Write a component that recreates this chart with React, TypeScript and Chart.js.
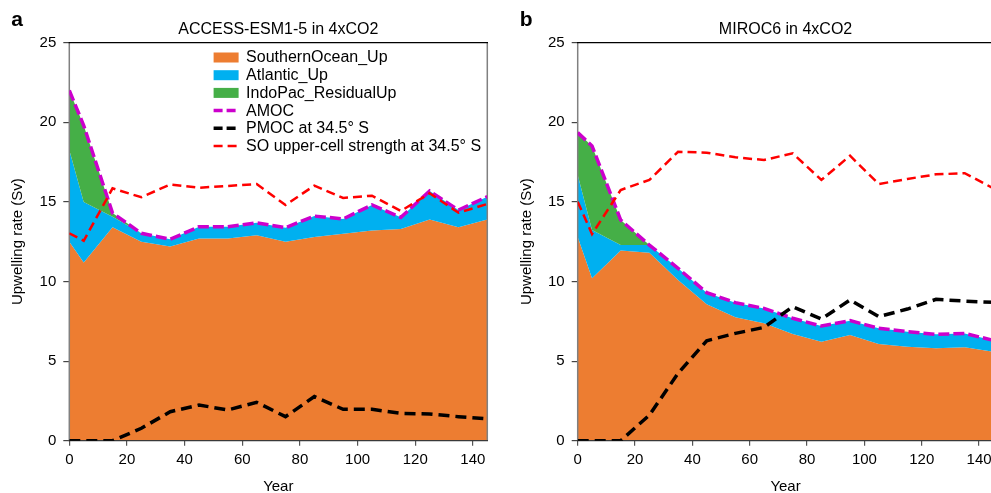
import React, { useEffect, useRef } from "react";
import { Chart, registerables } from "chart.js";
Chart.register(...registerables);

const years = [0, 5, 15, 25, 35, 45, 55, 65, 75, 85, 95, 105, 115, 125, 135, 145];
const xTickStep = 20;
const yTickStep = 5;
const xMax = 145;
const yMax = 25;

const legendLabels = [
  "SouthernOcean_Up",
  "Atlantic_Up",
  "IndoPac_ResidualUp",
  "AMOC",
  "PMOC at 34.5° S",
  "SO upper-cell strength at 34.5° S",
];

// Panel a: ACCESS-ESM1-5
const accTitle = "ACCESS-ESM1-5 in 4xCO2";
const accSouthernOceanUp = [12.5, 11.2, 13.4, 12.5, 12.2, 12.7, 12.7, 12.9, 12.5, 12.8, 13.0, 13.2, 13.3, 13.9, 13.4, 13.9];
const accAtlanticUp = [5.76, 3.8, 0.67, 0.53, 0.45, 0.74, 0.74, 0.79, 0.88, 1.31, 0.93, 1.61, 0.73, 1.78, 1.09, 1.43];
const accIndoPacResidualUp = [3.74, 4.8, 0.23, 0, 0, 0, 0, 0, 0, 0, 0, 0, 0, 0, 0, 0];
const accAMOC = [22.0, 19.8, 14.3, 13.03, 12.65, 13.44, 13.44, 13.69, 13.38, 14.11, 13.93, 14.81, 14.03, 15.68, 14.49, 15.33];
const accPMOC = [0, 0, 0, 0.78, 1.82, 2.24, 1.93, 2.41, 1.51, 2.77, 1.97, 1.97, 1.72, 1.68, 1.51, 1.38];
const accSOUpperCell = [13.03, 12.56, 15.85, 15.29, 16.1, 15.89, 16.0, 16.12, 14.81, 16.02, 15.25, 15.39, 14.43, 15.54, 14.32, 14.87];

// Panel b: MIROC6
const mirTitle = "MIROC6 in 4xCO2";
const mirSouthernOceanUp = [12.8, 10.2, 11.94, 11.81, 10.09, 8.57, 7.75, 7.37, 6.7, 6.22, 6.64, 6.07, 5.9, 5.8, 5.87, 5.59];
const mirAtlanticUp = [3.89, 3.03, 0.35, 0.48, 0.74, 0.73, 0.92, 0.94, 0.99, 0.98, 0.9, 0.99, 0.95, 0.88, 0.87, 0.71];
const mirIndoPacResidualUp = [2.66, 5.28, 1.57, 0, 0, 0, 0, 0, 0, 0, 0, 0, 0, 0, 0, 0];
const mirAMOC = [19.35, 18.51, 13.86, 12.29, 10.83, 9.3, 8.67, 8.31, 7.69, 7.2, 7.54, 7.06, 6.85, 6.68, 6.74, 6.3];
const mirPMOC = [0, 0, 0, 1.61, 4.23, 6.28, 6.74, 7.12, 8.42, 7.64, 8.84, 7.79, 8.27, 8.88, 8.77, 8.69];
const mirSOUpperCell = [15.01, 12.98, 15.75, 16.38, 18.15, 18.09, 17.8, 17.63, 18.05, 16.38, 17.9, 16.12, 16.44, 16.73, 16.8, 15.85];

const FONT = "'Liberation Sans', Arial, Helvetica, sans-serif";
const C_ORANGE = "#ED7D31";
const C_BLUE = "#00B0F0";
const C_GREEN = "#45AF47";
const C_MAGENTA = "#CC00CC";
const C_BLACK = "#000000";
const C_RED = "#FF0000";

const CANVAS_H = 500;

type PanelSpec = {
  label: string;
  title: string;
  so: number[];
  atl: number[];
  indo: number[];
  amoc: number[];
  pmoc: number[];
  soCell: number[];
  legend: boolean;
  canvasLeft: number;
  canvasWidth: number;
  yAxisWidth: number;
  padRight: number;
  yTitlePad: number;
};

const pts = (vals: number[]) => years.map((x, i) => ({ x, y: vals[i] }));
const cum = (...arrs: number[][]) => years.map((_, i) => arrs.reduce((s, a) => s + a[i], 0));

function buildConfig(p: PanelSpec): any {
  const lineDs = (data: number[], color: string, width: number, dash: number[], order: number) => ({
    data: pts(data),
    borderColor: color,
    borderWidth: width,
    borderDash: dash,
    pointRadius: 0,
    fill: false,
    tension: 0,
    order,
    borderCapStyle: "butt",
  });
  const areaDs = (data: number[], color: string, fill: any, order: number) => ({
    data: pts(data),
    borderWidth: 0,
    borderColor: color,
    backgroundColor: color,
    pointRadius: 0,
    fill,
    tension: 0,
    order,
  });

  const framePlugin = {
    id: "frame",
    beforeDatasetDraw(chart: any, args: any) {
      if (args.index !== 3) return;
      const { ctx, chartArea: a } = chart;
      ctx.save();
      ctx.lineCap = "butt";
      // left
      ctx.strokeStyle = "#808080";
      ctx.lineWidth = 1.5;
      ctx.beginPath();
      ctx.moveTo(a.left, a.top);
      ctx.lineTo(a.left, a.bottom);
      ctx.stroke();
      // right
      ctx.beginPath();
      ctx.moveTo(a.right, a.top);
      ctx.lineTo(a.right, a.bottom);
      ctx.stroke();
      // top
      ctx.strokeStyle = "#000";
      ctx.lineWidth = 1.3;
      ctx.beginPath();
      ctx.moveTo(a.left - 0.7, a.top);
      ctx.lineTo(a.right + 0.7, a.top);
      ctx.stroke();
      // bottom
      ctx.strokeStyle = "#3a3a3a";
      ctx.lineWidth = 1.3;
      ctx.beginPath();
      ctx.moveTo(a.left - 0.7, a.bottom);
      ctx.lineTo(a.right + 0.7, a.bottom);
      ctx.stroke();
      ctx.restore();
    },
    afterDraw(chart: any) {
      const { ctx, chartArea: a } = chart;
      ctx.save();
      ctx.fillStyle = "#000";
      ctx.textBaseline = "middle";
      ctx.textAlign = "center";
      ctx.font = `16px ${FONT}`;
      ctx.fillText(p.title, (a.left + a.right) / 2, 29.5);
      ctx.textAlign = "left";
      ctx.font = `bold 21px ${FONT}`;
      ctx.fillText(p.label, a.left - 58, 20);
      if (p.legend) {
        const bx = a.left + 144.3;
        const bw = 25;
        const tx = bx + 32.5;
        const y0 = 57.5;
        const dy = 17.7;
        ctx.font = `16px ${FONT}`;
        const kinds = [
          { t: "box", c: C_ORANGE },
          { t: "box", c: C_BLUE },
          { t: "box", c: C_GREEN },
          { t: "line", c: C_MAGENTA, w: 3.5, d: [9, 4] },
          { t: "line", c: C_BLACK, w: 3.5, d: [9, 4] },
          { t: "line", c: C_RED, w: 2.5, d: [9, 5] },
        ];
        kinds.forEach((k: any, i) => {
          const y = y0 + i * dy;
          if (k.t === "box") {
            ctx.fillStyle = k.c;
            ctx.fillRect(bx, y - 5, bw, 10);
          } else {
            ctx.strokeStyle = k.c;
            ctx.lineWidth = k.w;
            ctx.setLineDash(k.d);
            ctx.beginPath();
            ctx.moveTo(bx, y);
            ctx.lineTo(bx + bw, y);
            ctx.stroke();
            ctx.setLineDash([]);
          }
          ctx.fillStyle = "#000";
          ctx.fillText(legendLabels[i], tx, y + 0.5);
        });
      }
      ctx.restore();
    },
  };

  const tickFont = { family: FONT, size: 15 };
  return {
    type: "line",
    data: {
      datasets: [
        areaDs(p.so, C_ORANGE, "origin", 12),
        areaDs(cum(p.so, p.atl), C_BLUE, "-1", 11),
        areaDs(cum(p.so, p.atl, p.indo), C_GREEN, "-1", 10),
        lineDs(p.amoc, C_MAGENTA, 3.5, [11, 4], 3),
        lineDs(p.pmoc, C_BLACK, 3.5, [11, 6], 2),
        lineDs(p.soCell, C_RED, 2.5, [9, 5], 1),
      ],
    },
    options: {
      responsive: false,
      animation: false,
      devicePixelRatio: 1,
      layout: { padding: { top: 42.7, right: p.padRight, left: 0, bottom: 0 } },
      plugins: { legend: { display: false }, tooltip: { enabled: false }, title: { display: false } },
      scales: {
        x: {
          type: "linear",
          min: 0,
          max: xMax,
          afterFit: (s: any) => {
            s.height = CANVAS_H - 440.7;
          },
          ticks: {
            stepSize: xTickStep,
            includeBounds: false,
            color: "#000",
            font: tickFont,
            padding: 5,
            maxRotation: 0,
            autoSkip: false,
          },
          grid: { display: true, drawOnChartArea: false, drawTicks: true, tickLength: 5, color: "#555", lineWidth: 1.2 },
          border: { display: false },
          title: { display: true, text: "Year", color: "#000", font: { family: FONT, size: 15 }, padding: { top: 0, bottom: 4 } },
        },
        y: {
          type: "linear",
          min: 0,
          max: yMax,
          afterFit: (s: any) => {
            s.width = p.yAxisWidth;
          },
          ticks: { stepSize: yTickStep, color: "#000", font: tickFont, padding: 7 },
          grid: { display: true, drawOnChartArea: false, drawTicks: true, tickLength: 6, color: "#444", lineWidth: 1.2 },
          border: { display: false },
          title: {
            display: true,
            text: "Upwelling rate (Sv)",
            color: "#000",
            font: { family: FONT, size: 15 },
            padding: { top: p.yTitlePad, bottom: 0 },
          },
        },
      },
    },
    plugins: [framePlugin],
  };
}

function Panel({ spec }: { spec: PanelSpec }) {
  const ref = useRef<HTMLCanvasElement>(null);
  useEffect(() => {
    const chart = new Chart(ref.current as HTMLCanvasElement, buildConfig(spec));
    return () => chart.destroy();
  }, []);
  return (
    <canvas
      ref={ref}
      width={spec.canvasWidth}
      height={CANVAS_H}
      style={{ position: "absolute", left: spec.canvasLeft, top: 0, width: spec.canvasWidth, height: CANVAS_H }}
    />
  );
}

const panelA: PanelSpec = {
  label: "a",
  title: accTitle,
  so: accSouthernOceanUp,
  atl: accAtlanticUp,
  indo: accIndoPacResidualUp,
  amoc: accAMOC,
  pmoc: accPMOC,
  soCell: accSOUpperCell,
  legend: true,
  canvasLeft: 0,
  canvasWidth: 500,
  yAxisWidth: 69.3,
  padRight: 12.7,
  yTitlePad: 9.3,
};

const panelB: PanelSpec = {
  label: "b",
  title: mirTitle,
  so: mirSouthernOceanUp,
  atl: mirAtlanticUp,
  indo: mirIndoPacResidualUp,
  amoc: mirAMOC,
  pmoc: mirPMOC,
  soCell: mirSOUpperCell,
  legend: false,
  canvasLeft: 500,
  canvasWidth: 510,
  yAxisWidth: 77.7,
  padRight: 16.6,
  yTitlePad: 17.7,
};

export default function App() {
  return (
    <div
      style={{
        position: "absolute",
        left: 0,
        top: 0,
        width: 991,
        height: 493,
        overflow: "hidden",
        background: "#fff",
      }}
    >
      <Panel spec={panelA} />
      <Panel spec={panelB} />
    </div>
  );
}
